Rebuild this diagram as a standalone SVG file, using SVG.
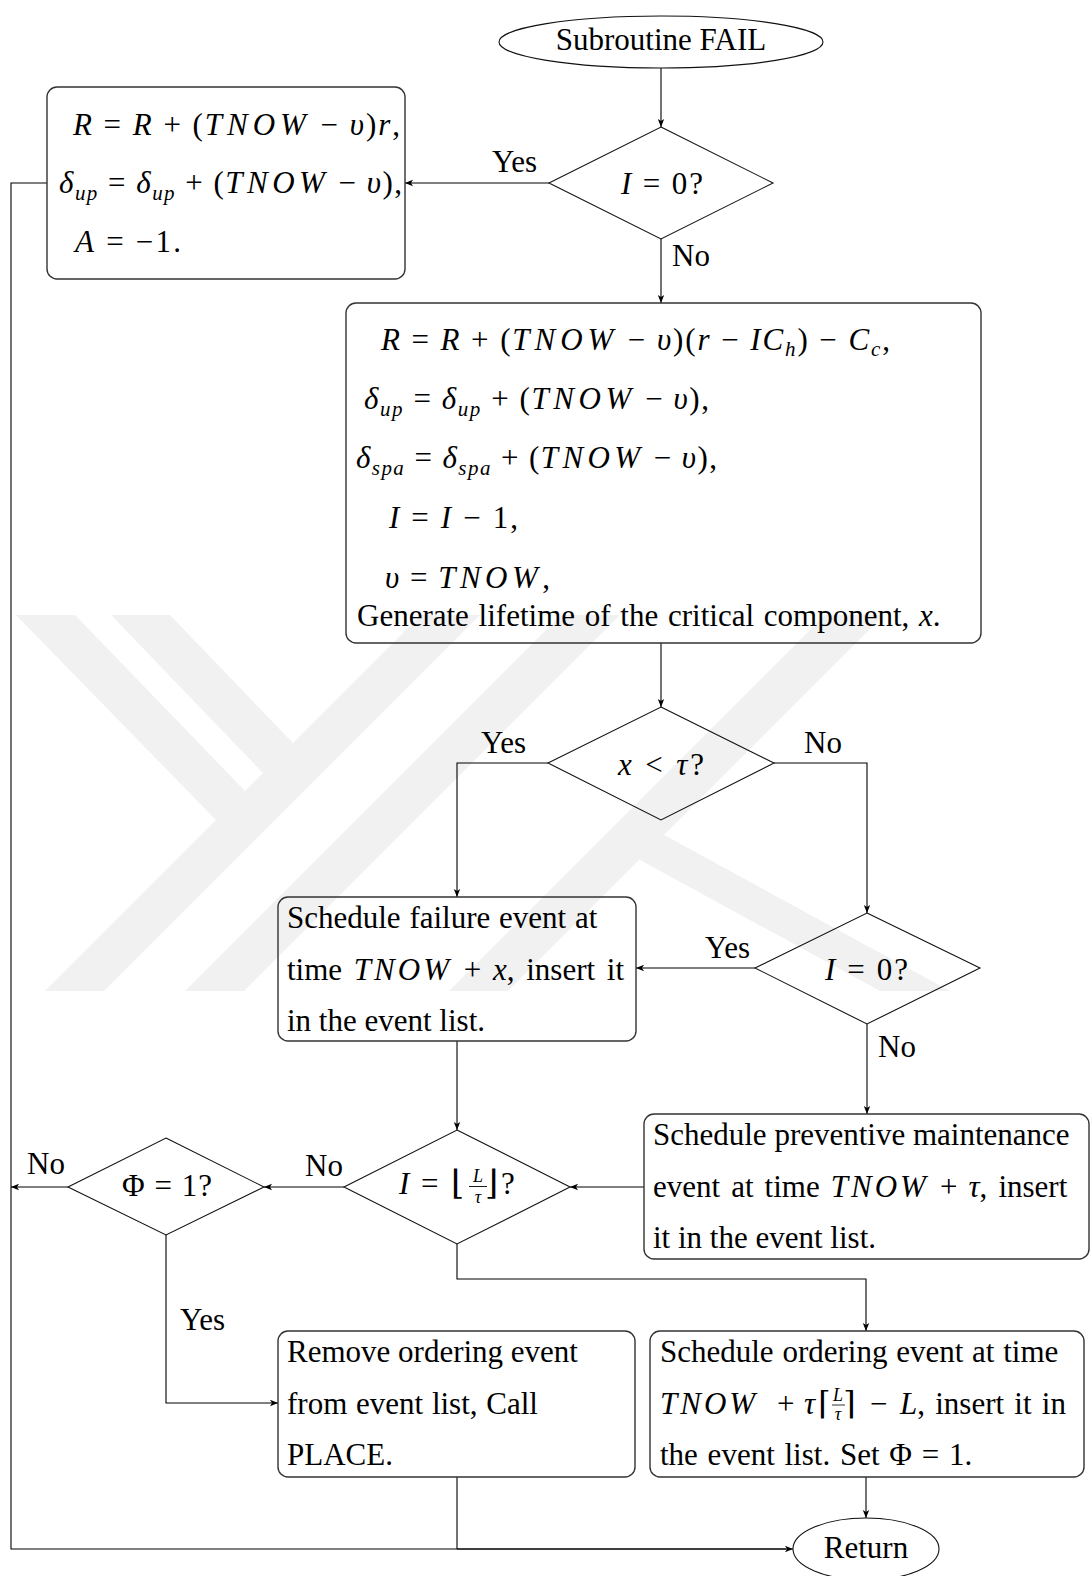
<svg xmlns="http://www.w3.org/2000/svg" width="1091" height="1576" viewBox="0 0 1091 1576">
<style>
.t{font-family:"Liberation Serif","Times New Roman",serif;font-size:31px;fill:#000}
.i{font-style:italic}
.s{font-size:21px}
.tn{letter-spacing:3px}
.fr{font-size:18px}
.sym{font-family:"DejaVu Serif","DejaVu Sans",serif;font-size:32px;fill:#000}
.box{fill:none;stroke:#333;stroke-width:1.4}
.dia{fill:none;stroke:#111;stroke-width:1.1}
.ln{fill:none;stroke:#000;stroke-width:1.1}
.wm{fill:#f1f1f1;stroke:none}
</style>
<defs>
<marker id="arr" markerWidth="10" markerHeight="8" refX="8" refY="4" orient="auto" markerUnits="userSpaceOnUse">
<path d="M0,0.8 L8,4 L0,7.2 L2,4 Z" fill="#000"/>
</marker>
<clipPath id="wmclip"><rect x="0" y="615" width="1091" height="376"/></clipPath>
</defs>
<rect width="1091" height="1576" fill="#fff"/>
<g id="watermark" clip-path="url(#wmclip)">
<polygon class="wm" points="45,991 104,991 480,615 421,615"/>
<polygon class="wm" points="185,991 244,991 620,615 561,615"/>
<polygon class="wm" points="449,991 508,991 884,615 825,615"/>
<polygon class="wm" points="16,615 75,615 245,791 216,820"/>
<polygon class="wm" points="111,615 170,615 293,743 263,773"/>
<polygon class="wm" points="655,830 950,991 880,991 640,860"/>
</g>
<g id="connectors">
<line class="ln" x1="661" y1="68" x2="661" y2="127" marker-end="url(#arr)"/>
<line class="ln" x1="549" y1="183" x2="405" y2="183" marker-end="url(#arr)"/>
<line class="ln" x1="661" y1="239" x2="661" y2="303" marker-end="url(#arr)"/>
<line class="ln" x1="661" y1="643" x2="661" y2="707" marker-end="url(#arr)"/>
<polyline class="ln" points="548,763 457,763 457,897" marker-end="url(#arr)"/>
<polyline class="ln" points="774,763 867,763 867,913" marker-end="url(#arr)"/>
<line class="ln" x1="755" y1="968" x2="636" y2="968" marker-end="url(#arr)"/>
<line class="ln" x1="867" y1="1024" x2="867" y2="1114" marker-end="url(#arr)"/>
<line class="ln" x1="457" y1="1041" x2="457" y2="1130" marker-end="url(#arr)"/>
<line class="ln" x1="644" y1="1187" x2="570" y2="1187" marker-end="url(#arr)"/>
<line class="ln" x1="344" y1="1187" x2="264" y2="1187" marker-end="url(#arr)"/>
<line class="ln" x1="68" y1="1187" x2="11" y2="1187" marker-end="url(#arr)"/>
<polyline class="ln" points="166,1235 166,1403 278,1403" marker-end="url(#arr)"/>
<polyline class="ln" points="457,1244 457,1279 866,1279 866,1331" marker-end="url(#arr)"/>
<line class="ln" x1="866" y1="1477" x2="866" y2="1518" marker-end="url(#arr)"/>
<polyline class="ln" points="47,183 11,183 11,1549 793,1549" marker-end="url(#arr)"/>
<line class="ln" x1="457" y1="1477" x2="457" y2="1549"/>
<line class="ln" x1="457" y1="1549" x2="786" y2="1549" stroke-width="1.6"/>
<text class="t" x="492" y="172">Yes</text>
<text class="t" x="672" y="266">No</text>
<text class="t" x="481" y="753">Yes</text>
<text class="t" x="804" y="753">No</text>
<text class="t" x="705" y="958">Yes</text>
<text class="t" x="878" y="1057">No</text>
<text class="t" x="305" y="1176">No</text>
<text class="t" x="27" y="1174">No</text>
<text class="t" x="180" y="1330">Yes</text>
</g>
<g id="start">
<ellipse cx="661" cy="42" rx="162" ry="26" class="dia"/>
<text class="t" x="661" y="50" text-anchor="middle">Subroutine FAIL</text>
</g>
<g id="dec1">
<polygon class="dia" points="661,127 773,183 661,239 549,183"/>
<text class="t" x="621" y="194" textLength="82" lengthAdjust="spacing"><tspan class="i">I</tspan> = 0?</text>
</g>
<g id="box1">
<rect class="box" x="47" y="87" width="358" height="192" rx="10"/>
<text class="t" x="73" y="135" textLength="327" lengthAdjust="spacing"><tspan class="i">R</tspan> = <tspan class="i">R</tspan> + (<tspan class="i tn">TNOW</tspan> − <tspan class="i">υ</tspan>)<tspan class="i">r</tspan>,</text>
<text class="t" x="59" y="193" textLength="343" lengthAdjust="spacing"><tspan class="i">δ</tspan><tspan class="i s" dy="7">up</tspan><tspan dy="-7"> = </tspan><tspan class="i">δ</tspan><tspan class="i s" dy="7">up</tspan><tspan dy="-7"> + (</tspan><tspan class="i tn">TNOW</tspan> − <tspan class="i">υ</tspan>),</text>
<text class="t" x="75" y="252" textLength="106" lengthAdjust="spacing"><tspan class="i">A</tspan> = −1.</text>
</g>
<g id="box2">
<rect class="box" x="346" y="303" width="635" height="340" rx="10"/>
<text class="t" x="381" y="350" textLength="509" lengthAdjust="spacing"><tspan class="i">R</tspan> = <tspan class="i">R</tspan> + (<tspan class="i tn">TNOW</tspan> − <tspan class="i">υ</tspan>)(<tspan class="i">r</tspan> − <tspan class="i">IC</tspan><tspan class="i s" dy="6">h</tspan><tspan dy="-6">) − </tspan><tspan class="i">C</tspan><tspan class="i s" dy="6">c</tspan><tspan dy="-6">,</tspan></text>
<text class="t" x="364" y="409" textLength="345" lengthAdjust="spacing"><tspan class="i">δ</tspan><tspan class="i s" dy="7">up</tspan><tspan dy="-7"> = </tspan><tspan class="i">δ</tspan><tspan class="i s" dy="7">up</tspan><tspan dy="-7"> + (</tspan><tspan class="i tn">TNOW</tspan> − <tspan class="i">υ</tspan>),</text>
<text class="t" x="356" y="468" textLength="361" lengthAdjust="spacing"><tspan class="i">δ</tspan><tspan class="i s" dy="7">spa</tspan><tspan dy="-7"> = </tspan><tspan class="i">δ</tspan><tspan class="i s" dy="7">spa</tspan><tspan dy="-7"> + (</tspan><tspan class="i tn">TNOW</tspan> − <tspan class="i">υ</tspan>),</text>
<text class="t" x="389" y="528" textLength="129" lengthAdjust="spacing"><tspan class="i">I</tspan> = <tspan class="i">I</tspan> − 1,</text>
<text class="t" x="385" y="588" textLength="165" lengthAdjust="spacing"><tspan class="i">υ</tspan> = <tspan class="i tn">TNOW</tspan>,</text>
<text class="t" x="357" y="626" word-spacing="2">Generate lifetime of the critical component, <tspan class="i">x</tspan>.</text>
</g>
<g id="dec2">
<polygon class="dia" points="661,707 774,763 661,820 548,763"/>
<text class="t" x="618" y="775" textLength="86" lengthAdjust="spacing"><tspan class="i">x</tspan> &lt; <tspan class="i">τ</tspan>?</text>
</g>
<g id="box3">
<rect class="box" x="278" y="897" width="358" height="144" rx="10"/>
<text class="t" x="287" y="928" word-spacing="1">Schedule failure event at</text>
<text class="t" x="287" y="980" word-spacing="4">time <tspan class="i tn">TNOW</tspan> + <tspan class="i">x</tspan>, insert it</text>
<text class="t" x="287" y="1031">in the event list.</text>
</g>
<g id="dec3">
<polygon class="dia" points="867,913 980,968 867,1024 755,968"/>
<text class="t" x="825" y="980" textLength="83" lengthAdjust="spacing"><tspan class="i">I</tspan> = 0?</text>
</g>
<g id="box4">
<rect class="box" x="644" y="1114" width="445" height="145" rx="10"/>
<text class="t" x="653" y="1145">Schedule preventive maintenance</text>
<text class="t" x="653" y="1197" word-spacing="3.3">event at time <tspan class="i tn">TNOW</tspan> + <tspan class="i">τ</tspan>, insert</text>
<text class="t" x="653" y="1248">it in the event list.</text>
</g>
<g id="dec4">
<polygon class="dia" points="457,1130 570,1187 457,1244 344,1187"/>
<text class="t i" x="399" y="1194">I</text>
<text class="t" x="421" y="1194">=</text>
<text class="sym" x="451" y="1194" style="font-size:34px">⌊</text>
<text class="t i fr" x="478" y="1182" text-anchor="middle">L</text>
<line x1="469" y1="1186.5" x2="487" y2="1186.5" stroke="#000" stroke-width="0.9"/>
<text class="t i fr" x="478" y="1203" text-anchor="middle">τ</text>
<text class="sym" x="485" y="1194" style="font-size:34px">⌋</text>
<text class="t" x="501" y="1194">?</text>
</g>
<g id="dec5">
<polygon class="dia" points="166,1138 264,1187 166,1235 68,1187"/>
<text class="t" x="122" y="1196" textLength="90" lengthAdjust="spacing">Φ = 1?</text>
</g>
<g id="box5">
<rect class="box" x="278" y="1331" width="357" height="146" rx="10"/>
<text class="t" x="287" y="1362">Remove ordering event</text>
<text class="t" x="287" y="1414" word-spacing="1">from event list, Call</text>
<text class="t" x="287" y="1465">PLACE.</text>
</g>
<g id="box6">
<rect class="box" x="650" y="1331" width="434" height="146" rx="10"/>
<text class="t" x="660" y="1362" word-spacing="1">Schedule ordering event at time</text>
<text class="t i tn" x="660" y="1414">TNOW</text>
<text class="t" x="777" y="1414">+</text>
<text class="t i" x="804" y="1414">τ</text>
<text class="sym" x="818" y="1414">⌈</text>
<text class="t i fr" x="838" y="1401" text-anchor="middle">L</text>
<line x1="832" y1="1405" x2="845" y2="1405" stroke="#000" stroke-width="0.8"/>
<text class="t i fr" x="838" y="1420" text-anchor="middle">τ</text>
<text class="sym" x="843" y="1414">⌉</text>
<text class="t" x="870" y="1414">−</text>
<text class="t" x="900" y="1414" word-spacing="2.5"><tspan class="i">L</tspan>, insert it in</text>
<text class="t" x="660" y="1465" word-spacing="2">the event list.  Set Φ = 1.</text>
</g>
<g id="return">
<ellipse cx="866" cy="1549" rx="73" ry="31" class="dia"/>
<text class="t" x="866" y="1558" text-anchor="middle">Return</text>
</g>
</svg>
